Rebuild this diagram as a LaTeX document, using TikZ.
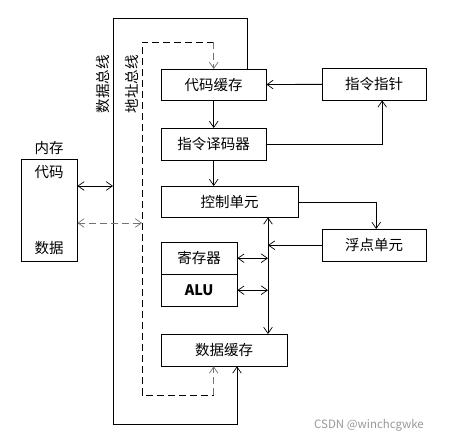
\documentclass[tikz,border=0pt]{standalone}
\usepackage{fontspec}
\setmainfont{Noto Sans CJK SC}
\usetikzlibrary{arrows.meta}

\begin{document}
\begin{tikzpicture}[x=1pt,y=-1pt,
	>={Straight Barb[angle=70:7.5pt, line width=0.7pt]},
	every node/.style={font=\fontsize{14.5pt}{16pt}\selectfont},
	unit/.style={draw, anchor=north west, inner sep=0pt, minimum height=32pt},
	bus/.style={line width=0.9pt},
	addr/.style={bus, dash pattern=on 7pt off 4pt},
	addrgray/.style={addr, draw=black!55}]
	\fill[white] (0,0) rectangle (452,445);
	\useasboundingbox (0,0) rectangle (452,445);

	\node[unit, minimum width=105pt, minimum height=31pt] (code_cache) at (161,69) {代码缓存};
	\node[unit, minimum width=105pt] (decoder) at (161,128) {指令译码器};
	\node[unit, minimum width=137pt, minimum height=31pt] (control) at (161,186) {控制单元};
	\node[unit, minimum width=76pt] (regs) at (161,242) {寄存器};
	\node[unit, minimum width=76pt] (alu) at (161,274) {\textbf{ALU}};
	\node[unit, minimum width=126pt] (data_cache) at (161,334) {数据缓存};
	\node[unit, minimum width=104pt] (pointer) at (322,68) {指令指针};
	\node[unit, minimum width=104pt] (fpu) at (322,229) {浮点单元};

	\node[draw, anchor=north west, minimum width=56pt, minimum height=102pt] (memory) at (21,159) {};
	\node (mem_label) at (49,148) {内存};
	\node (mem_code) at (49,172) {代码};
	\node (mem_data) at (49,248) {数据};

	\node[rotate=90] (db_label) at (103,84) {数据总线};
	\node[rotate=90] (ab_label) at (132,84) {地址总线};
	\node[text=black!40, font=\fontsize{11.5pt}{13pt}\selectfont] (mark) at (369,425) {CSDN @winchcgwke};

	\coordinate (db_top) at (113,18);
	\coordinate (db_bot) at (113,424);
	\coordinate (ab_top) at (142,42);
	\coordinate (ab_bot) at (142,395);
	\coordinate (cbus) at (268,0);

	% data bus
	\draw[bus, ->] (code_cache.north -| 247,0) |- (db_top) -- (db_bot) -| (data_cache.south -| 237,0);
	\draw[bus, <->] (memory.east |- 0,186) -- (db_top |- 0,186);

	% address bus
	\draw[addr] (ab_top -| code_cache.north) -- (ab_top) -- (ab_bot) -- (ab_bot -| code_cache.south);
	\draw[addrgray, ->] (ab_top -| code_cache.north) -- (code_cache.north);
	\draw[addrgray, ->] (ab_bot -| code_cache.south) -- (code_cache.south |- data_cache.south);
	\draw[addrgray, <->] (memory.east |- 0,223) -- (ab_top |- 0,223);

	% control path
	\draw[bus, ->] (pointer) -- (code_cache);
	\draw[bus, ->] (code_cache) -- (decoder);
	\draw[bus, ->] (decoder.south) -- (decoder.south |- control.north);
	\draw[bus, ->] (decoder.east) -| ([xshift=8pt]pointer.south);
	\draw[bus, ->] (control.east |- 0,202) -| ([xshift=2pt]fpu.north);

	% internal bus
	\draw[bus, <->] (control.south -| cbus) -- (data_cache.north -| cbus);
	\draw[bus, ->] (fpu.west) -- (fpu.west -| cbus);
	\draw[bus, <->] (regs.east) -- (regs.east -| cbus);
	\draw[bus, <->] (alu.east) -- (alu.east -| cbus);
\end{tikzpicture}
\end{document}
